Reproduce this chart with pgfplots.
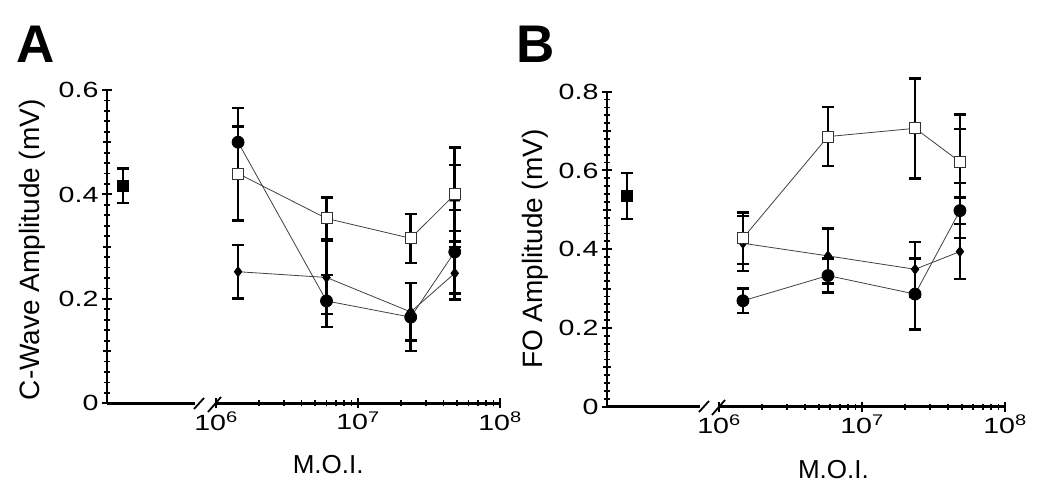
\documentclass[border=0pt]{standalone}
\usepackage{fontspec}
\setmainfont{Liberation Sans}
\newfontfamily\tickfont{Liberation Sans}[FakeStretch=1.3]
\usepackage{pgfplots}
\pgfplotsset{compat=1.18}

\pgfplotsset{
  base/.style={scale only axis, ymin=0, clip=false,
    tick align=outside, major tick length=10pt, minor tick length=6pt,
    major tick style={line width=2pt, black},
    minor tick style={line width=1.8pt, black},
    ticklabel style={font=\tickfont\fontsize{22}{24}\selectfont},
    label style={font=\fontsize{28}{30}\selectfont}},
  nolinearrows/.style={axis line style={line width=2.6pt,-},
    every outer x axis line/.append style={-, line width=2.6pt},
    every outer y axis line/.append style={-, line width=2.6pt}},
  lefthalf/.style={base, axis x line=bottom, axis y line=left, nolinearrows,
    xmin=0, xtick=\empty,
    minor ytick={0.02,0.04,...,0.8},
    extra y ticks={0.1,0.3,0.5,0.7}, extra y tick labels={},
    extra y tick style={major tick length=8pt}},
  righthalf/.style={base, axis x line=bottom, axis y line=none, nolinearrows,
    xmin=1e6, xmax=1e8,
    xtick={1e6,1e7,1e8},
    xticklabels={10\textsuperscript{6},10\textsuperscript{7},10\textsuperscript{8}},
    minor xtick={2e6,3e6,4e6,5e6,6e6,7e6,8e6,9e6,2e7,3e7,4e7,5e7,6e7,7e7,8e7,9e7}},
  eb/.style={error bars/.cd, y dir=both, y explicit,
    error bar style={line width=2.6pt, black, solid},
    error mark options={rotate=90, line width=2.4pt, black, mark size=6pt}},
  sqopen/.style={line width=0.8pt, black!75, mark=square*, mark size=5.5pt,
    mark options={fill=white, draw=black!80, line width=1pt}, eb},
  circ/.style={line width=0.8pt, black!75, mark=*, mark size=6pt,
    mark options={fill=black, draw=black}, eb},
  diam/.style={line width=0.8pt, black!75, mark=diamond*, mark size=5pt,
    mark options={fill=black, draw=black}, eb},
  tri/.style={only marks, mark=triangle*, mark size=6pt,
    mark options={fill=black, draw=black}, eb},
  ctrl/.style={only marks, mark=square*, mark size=5.5pt,
    mark options={fill=black, draw=black}, eb},
}

\begin{document}
\begin{tikzpicture}
\useasboundingbox (0pt,0pt) rectangle (1050pt,497pt);

% ---------- panel A ----------
\node[font=\bfseries\fontsize{53}{53}\selectfont] at (36pt,453pt) {A};
\begin{axis}[lefthalf, at={(107pt,93.7pt)}, anchor=south west,
  width=88pt, height=313.3pt, xmax=88, ymax=0.6,
  ytick={0,0.2,0.4,0.6}, yticklabels={0,0.2,0.4,0.6},
  minor xtick={15,28,40,51,61,73,81,86},
  ylabel={C-Wave Amplitude (mV)},
  ylabel style={at={(axis description cs:-0.85,0.49)}, anchor=center}]
  \addplot[ctrl] coordinates {(16,0.417) +- (0,0.033)};
\end{axis}
\begin{semilogxaxis}[righthalf, at={(216pt,93.7pt)}, anchor=south west,
  width=284pt, height=313.3pt, ymax=0.6,
  xlabel={M.O.I.},
  xlabel style={font=\fontsize{26}{28}\selectfont,
    at={(axis description cs:0.395,-0.197)}, anchor=center}]
  \addplot[diam] coordinates {
    (1.43e6,0.252) +- (0,0.051)
    (6.0e6,0.241) +- (0,0.070)
    (2.35e7,0.175) +- (0,0.055)
    (4.8e7,0.249) +- (0,0.050)};
  \addplot[circ] coordinates {
    (1.43e6,0.500) +- (0,0.066)
    (6.0e6,0.196) +- (0,0.050)
    (2.35e7,0.165) +- (0,0.065)
    (4.8e7,0.290) +- (0,0.080)};
  \addplot[tri] coordinates {(4.8e7,0.393) +- (0,0.063)};
  \addplot[sqopen] coordinates {
    (1.43e6,0.440) +- (0,0.090)
    (6.0e6,0.354) +- (0,0.040)
    (2.35e7,0.316) +- (0,0.047)
    (4.8e7,0.400) +- (0,0.090)};
\end{semilogxaxis}
\draw[line width=1.8pt] (194pt,88pt) -- (204pt,99pt);
\draw[line width=1.8pt] (208pt,85pt) -- (221pt,100pt);

% ---------- panel B ----------
\node[font=\bfseries\fontsize{53}{53}\selectfont] at (536pt,453pt) {B};
\begin{axis}[lefthalf, at={(607pt,90.3pt)}, anchor=south west,
  width=93pt, height=315pt, xmax=93, ymax=0.8,
  ytick={0,0.2,0.4,0.6,0.8}, yticklabels={0,0.2,0.4,0.6,0.8},
  minor xtick={16,30,42,54,64,77,86,91},
  ylabel={FO Amplitude (mV)},
  ylabel style={at={(axis description cs:-0.77,0.5)}, anchor=center}]
  \addplot[ctrl] coordinates {(20,0.535) +- (0,0.058)};
\end{axis}
\begin{semilogxaxis}[righthalf, at={(719pt,90.3pt)}, anchor=south west,
  width=286pt, height=315pt, ymax=0.8,
  xlabel={M.O.I.},
  xlabel style={font=\fontsize{26}{28}\selectfont,
    at={(axis description cs:0.40,-0.2)}, anchor=center}]
  \addplot[diam] coordinates {
    (1.47e6,0.415) +- (0,0.070)
    (5.78e6,0.383) +- (0,0.070)
    (2.35e7,0.349) +- (0,0.070)
    (4.84e7,0.394) +- (0,0.070)};
  \addplot[circ] coordinates {
    (1.47e6,0.269) +- (0,0.031)
    (5.78e6,0.333) +- (0,0.043)
    (2.35e7,0.286) +- (0,0.090)
    (4.84e7,0.498) +- (0,0.070)};
  \addplot[tri] coordinates {(4.84e7,0.618) +- (0,0.087)};
  \addplot[sqopen] coordinates {
    (1.47e6,0.428) +- (0,0.065)
    (5.78e6,0.686) +- (0,0.075)
    (2.35e7,0.707) +- (0,0.127)
    (4.84e7,0.622) +- (0,0.120)};
\end{semilogxaxis}
\draw[line width=1.8pt] (699pt,85pt) -- (709pt,96pt);
\draw[line width=1.8pt] (712pt,82pt) -- (725pt,97pt);
\end{tikzpicture}
\end{document}
